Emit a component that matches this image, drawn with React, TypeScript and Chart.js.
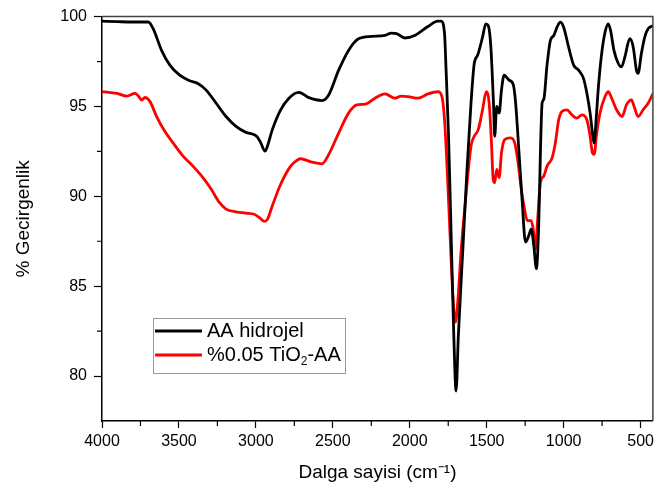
import React, { useEffect, useRef } from "react";
import { Chart, registerables } from "chart.js";
Chart.register(...registerables);

// Wavenumbers (cm-1) and transmittance (%) — AA hidrojel
const wnBlack = [4000, 3900, 3800, 3699, 3667, 3613, 3559, 3495, 3430, 3377, 3323, 3258, 3194, 3129, 3065, 3011, 2990, 2968, 2940, 2925, 2893, 2839, 2785, 2720, 2656, 2570, 2527, 2462, 2398, 2333, 2248, 2161, 2119, 2086, 2032, 1968, 1882, 1817, 1796, 1774, 1764, 1748, 1731, 1714, 1699, 1684, 1656, 1628, 1602, 1581, 1559, 1527, 1506, 1490, 1473, 1456, 1448, 1435, 1419, 1404, 1387, 1355, 1327, 1312, 1290, 1269, 1248, 1226, 1211, 1194, 1177, 1161, 1151, 1140, 1129, 1108, 1086, 1064, 1043, 1022, 1000, 968, 935, 903, 871, 849, 828, 810, 802, 789, 774, 753, 731, 710, 695, 673, 645, 624, 602, 570, 548, 527, 516, 495, 473, 451, 419];
const tBlack = [99.75, 99.72, 99.7, 99.7, 99.32, 98.12, 97.3, 96.74, 96.43, 96.28, 95.91, 95.18, 94.44, 93.89, 93.56, 93.43, 93.3, 92.97, 92.51, 92.79, 93.71, 94.81, 95.46, 95.78, 95.49, 95.33, 95.64, 97.02, 98.12, 98.77, 98.9, 98.95, 99.08, 99.05, 98.81, 98.95, 99.45, 99.75, 99.75, 99.04, 97.02, 93.35, 87.83, 82.3, 79.17, 82.3, 86.9, 91.5, 95.18, 97.39, 97.85, 98.86, 99.6, 99.5, 98.31, 95.18, 93.34, 95.0, 94.63, 95.91, 96.74, 96.47, 96.2, 95.18, 92.42, 89.66, 87.45, 87.83, 88.18, 87.27, 85.97, 88.73, 92.42, 95.18, 95.4, 97.3, 98.68, 98.95, 99.41, 99.69, 99.41, 98.31, 97.3, 97.02, 96.56, 95.73, 94.63, 93.34, 92.97, 94.26, 96.1, 97.94, 99.13, 99.6, 99.23, 98.12, 97.39, 97.2, 97.76, 98.77, 98.31, 97.02, 96.84, 97.94, 98.86, 99.32, 99.5];

// %0.05 TiO2-AA
const wnRed = [4000, 3903, 3839, 3785, 3764, 3742, 3721, 3688, 3645, 3592, 3538, 3473, 3409, 3344, 3290, 3237, 3194, 3129, 3065, 3011, 2979, 2946, 2925, 2893, 2839, 2774, 2725, 2710, 2635, 2570, 2527, 2462, 2398, 2344, 2290, 2226, 2161, 2097, 2054, 2011, 1946, 1882, 1817, 1791, 1774, 1757, 1738, 1720, 1703, 1688, 1667, 1635, 1602, 1581, 1555, 1527, 1503, 1484, 1469, 1458, 1448, 1435, 1419, 1404, 1383, 1344, 1318, 1296, 1275, 1254, 1237, 1211, 1198, 1183, 1168, 1151, 1129, 1108, 1075, 1054, 1032, 1011, 979, 946, 914, 882, 849, 828, 813, 802, 785, 764, 731, 710, 688, 656, 620, 592, 559, 542, 516, 484, 451, 419];
const tRed = [95.83, 95.73, 95.58, 95.73, 95.58, 95.36, 95.5, 95.27, 94.44, 93.62, 92.97, 92.24, 91.68, 91.04, 90.39, 89.66, 89.29, 89.14, 89.07, 89.0, 88.83, 88.61, 88.72, 89.48, 90.67, 91.68, 92.05, 92.09, 91.9, 91.81, 92.32, 93.52, 94.63, 95.09, 95.13, 95.46, 95.7, 95.46, 95.58, 95.55, 95.46, 95.7, 95.82, 95.55, 94.26, 91.5, 87.83, 84.5, 83.0, 84.13, 86.9, 90.03, 92.79, 93.34, 93.71, 94.81, 95.82, 95.18, 92.97, 90.95, 90.76, 91.5, 91.04, 92.42, 93.16, 93.25, 92.97, 91.87, 90.39, 89.29, 88.65, 88.65, 88.18, 87.08, 88.83, 90.76, 91.13, 91.68, 92.14, 92.97, 94.26, 94.72, 94.81, 94.53, 94.35, 94.53, 94.26, 93.34, 92.42, 92.33, 93.52, 94.63, 95.55, 95.82, 95.46, 94.81, 94.44, 95.09, 95.36, 95.0, 94.44, 94.81, 95.18, 95.73];

const xTicks = [4000, 3500, 3000, 2500, 2000, 1500, 1000, 500];
const xMinor = [3750, 3250, 2750, 2250, 1750, 1250, 750];
const yTicks = [80, 85, 90, 95, 100];
const yMinor = [82.5, 87.5, 92.5, 97.5];
const seriesLabels = ["AA hidrojel", "%0.05 TiO2-AA"];
const xTitle = "Dalga sayisi (cm⁻¹)";
const yTitle = "% Gecirgenlik";

const FONT = "'Liberation Sans', Arial, sans-serif";

const framePlugin = {
  id: "frame",
  afterDraw(chart: any) {
    const { ctx, chartArea: a, scales } = chart;
    ctx.save();
    ctx.strokeStyle = "#444";
    ctx.lineWidth = 1.5;
    ctx.beginPath();
    ctx.moveTo(a.left, a.top);
    ctx.lineTo(a.right, a.top);
    ctx.lineTo(a.right, a.bottom);
    ctx.stroke();
    ctx.strokeStyle = "#000";
    ctx.lineWidth = 1.2;
    ctx.beginPath();
    xMinor.forEach((v) => {
      const px = scales.x.getPixelForValue(v);
      ctx.moveTo(px, a.bottom);
      ctx.lineTo(px, a.bottom + 5);
    });
    yMinor.forEach((v) => {
      const py = scales.y.getPixelForValue(v);
      ctx.moveTo(a.left, py);
      ctx.lineTo(a.left - 5, py);
    });
    ctx.stroke();

    const bx = 153, by = 318, bw = 192, bh = 55;
    ctx.fillStyle = "#fff";
    ctx.fillRect(bx, by, bw, bh);
    ctx.strokeStyle = "#999";
    ctx.lineWidth = 1;
    ctx.strokeRect(bx + 0.5, by + 0.5, bw, bh);
    const rows = [331, 355];
    chart.data.datasets.forEach((ds: any, i: number) => {
      const y = rows[i];
      ctx.strokeStyle = ds.borderColor;
      ctx.lineWidth = 3;
      ctx.beginPath();
      ctx.moveTo(155, y);
      ctx.lineTo(202, y);
      ctx.stroke();
      ctx.fillStyle = "#000";
      ctx.textBaseline = "middle";
      ctx.textAlign = "left";
      const label: string = ds.label;
      const m = label.match(/^(.*TiO)(2)(.*)$/);
      let x = 207;
      if (m) {
        ctx.font = `20px ${FONT}`;
        ctx.fillText(m[1], x, y);
        x += ctx.measureText(m[1]).width;
        ctx.font = `12px ${FONT}`;
        ctx.fillText(m[2], x, y + 7);
        x += ctx.measureText(m[2]).width;
        ctx.font = `20px ${FONT}`;
        ctx.fillText(m[3], x, y);
      } else {
        ctx.font = `20px ${FONT}`;
        ctx.fillText(label, x, y);
      }
    });
    ctx.restore();
  },
};

export default function App() {
  const ref = useRef<HTMLCanvasElement | null>(null);
  useEffect(() => {
    if (!ref.current) return;
    const chart = new Chart(ref.current, {
      type: "line",
      data: {
        datasets: [
          {
            label: seriesLabels[0],
            data: wnBlack.map((w, i) => ({ x: w, y: tBlack[i] })),
            borderColor: "#000000",
            borderWidth: 2.8,
            pointRadius: 0,
            cubicInterpolationMode: "monotone",
          },
          {
            label: seriesLabels[1],
            data: wnRed.map((w, i) => ({ x: w, y: tRed[i] })),
            borderColor: "#ff0000",
            borderWidth: 2.8,
            pointRadius: 0,
            cubicInterpolationMode: "monotone",
          },
        ],
      },
      options: {
        responsive: false,
        animation: false,
        events: [],
        layout: { padding: { top: 13, right: 3, left: 0, bottom: 0 } },
        plugins: { legend: { display: false }, tooltip: { enabled: false } },
        scales: {
          x: {
            type: "linear",
            reverse: true,
            min: 420,
            max: 4000,
            afterBuildTicks: (s: any) => {
              s.ticks = xTicks.map((v) => ({ value: v }));
            },
            afterFit: (s: any) => {
              s.height = 77;
            },
            ticks: {
              color: "#000",
              font: { family: FONT, size: 16 },
              padding: 4,
              maxRotation: 0,
              autoSkip: false,
              callback: (v: any) => String(v),
            },
            grid: { drawOnChartArea: false, tickLength: 7, tickColor: "#000", tickWidth: 1.2 },
            border: { display: true, color: "#000", width: 1.5 },
            title: {
              display: true,
              text: xTitle,
              color: "#000",
              font: { family: FONT, size: 19 },
              padding: { top: 14, bottom: 14 },
            },
          },
          y: {
            type: "linear",
            min: 77.5,
            max: 100,
            afterBuildTicks: (s: any) => {
              s.ticks = yTicks.map((v) => ({ value: v }));
            },
            afterFit: (s: any) => {
              s.width = 102;
            },
            ticks: {
              color: "#000",
              font: { family: FONT, size: 16 },
              padding: 7,
              autoSkip: false,
              callback: (v: any) => String(v),
            },
            grid: { drawOnChartArea: false, tickLength: 8, tickColor: "#000", tickWidth: 1.2 },
            border: { display: true, color: "#000", width: 1.5 },
            title: {
              display: true,
              text: yTitle,
              color: "#000",
              font: { family: FONT, size: 19 },
              padding: { top: 12, bottom: 12 },
            },
          },
        },
      },
      plugins: [framePlugin],
    } as any);
    return () => chart.destroy();
  }, []);
  return (
    <div style={{ position: "absolute", left: 0, top: 0, width: 658, height: 498, background: "#fff" }}>
      <canvas ref={ref} width={658} height={498} style={{ display: "block" }} />
    </div>
  );
}
